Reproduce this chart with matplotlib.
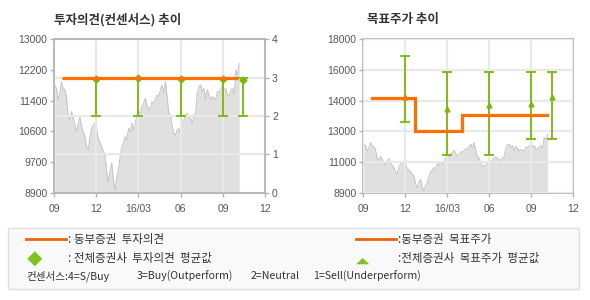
import matplotlib
matplotlib.use("Agg")
import matplotlib.pyplot as plt
import matplotlib.dates as mdates
from matplotlib.patches import Rectangle, Polygon
from matplotlib.lines import Line2D
import pandas as pd
import numpy as np

plt.rcParams['font.family'] = ['Liberation Sans', 'Noto Sans CJK KR', 'DejaVu Sans']

# ---------------- data ----------------
price_start = "2015-09-02"
price_end = "2016-10-06"
price = [11780, 11690, 11380, 11560, 11870, 11690, 11650, 11470, 10930, 10840,
         11070, 10890, 10710, 10530, 10760, 10930, 10670, 10530, 10400, 10130,
         10040, 10400, 10620, 10710, 10760, 10620, 10310, 10260, 10130, 10000,
         9910, 9420, 9190, 9510, 9690, 9240, 8970, 9330, 9510, 9860,
         10130, 10220, 10400, 10310, 10620, 10530, 10760, 10580, 10760, 10980,
         11070, 11020, 11200, 11290, 11420, 11250, 11110, 11160, 11330, 11290,
         11380, 11510, 11470, 11650, 11780, 11560, 11870, 11470, 11020, 10980,
         10670, 10490, 10440, 10580, 10620, 10440, 10760, 10840, 10980, 11020,
         10930, 10890, 10760, 10980, 11020, 11560, 11740, 11780, 11600, 11690,
         11380, 11650, 11510, 11380, 11470, 11420, 11380, 11600, 11600, 11650,
         11780, 11650, 11690, 11510, 11470, 11650, 11690, 11510, 12180, 12050,
         12360]

opinion_dates = ["2015-09-18", "2016-10-04"]
opinion = [3, 3]

cons_dates = ["2015-12-01", "2016-03-01", "2016-06-01", "2016-09-01", "2016-10-15"]
cons_mean = [2.96, 2.98, 2.96, 2.96, 2.93]
cons_low = [2, 2, 2, 2, 2]
cons_high = [3, 3, 3, 3, 3]

target_dates = ["2015-09-20", "2015-12-22", "2016-04-02", "2016-10-05"]
target = [14540, 12560, 13510, 13510]

tp_mean = [14560, 13870, 14100, 14160, 14600]
tp_low = [13080, 11140, 11140, 12070, 12070]
tp_high = [17030, 16050, 16050, 16050, 16050]

x_ticks = ["2015-09-01", "2015-12-01", "2016-03-01", "2016-06-01", "2016-09-01", "2016-12-01"]
x_labels = ["09", "12", "16/03", "06", "09", "12"]
left_ylabels = ["8900", "9700", "10600", "11400", "12200", "13000"]
right_ylabels = ["8900", "11000", "13000", "14000", "16000", "18000"]
rating_ticks = [0, 1, 2, 3, 4]

# ---------------- styling ----------------
ORANGE = "#ff7000"
GREEN = "#78b80a"
GRID = "#e9e9e9"
SPINE = "#b4b4b4"
TICKC = "#555555"
FILL = "#e0e0e0"
EDGE = "#c4c4c4"

pdates = pd.date_range(price_start, price_end, periods=len(price))
xt = pd.to_datetime(x_ticks)
xlim = (xt[0], xt[-1])

fig = plt.figure(figsize=(5.9, 3.0), dpi=100)
fig.patch.set_facecolor("white")

def style_axes(ax):
    for s in ax.spines.values():
        s.set_color(SPINE)
        s.set_linewidth(1.2)
    ax.tick_params(length=3, width=1, color=SPINE, labelcolor=TICKC, labelsize=7.5, pad=2)
    ax.set_xlim(*xlim)
    ax.set_xticks(xt)
    ax.set_xticklabels(x_labels)
    ax.tick_params(axis='x', pad=5)
    ax.xaxis.grid(True, color=GRID, lw=1.6)
    ax.set_axisbelow(False)

def draw_price(ax, lo, hi):
    ax.fill_between(pdates, price, lo, color=FILL, lw=0, zorder=1)
    ax.plot(pdates, price, color=EDGE, lw=0.7, zorder=1.5)
    ax.set_ylim(lo, hi)

# ----- left chart -----
axL = fig.add_axes([54.3 / 590, 1 - 192.7 / 300, (265 - 54.3) / 590, (192.7 - 39.3) / 300])
draw_price(axL, 8900, 13000)
style_axes(axL)
axL.set_yticks(np.linspace(8900, 13000, len(left_ylabels)))
axL.set_yticklabels(left_ylabels)

axR = axL.twinx()
axR.set_ylim(0, 4)
axR.set_yticks(rating_ticks)
axR.yaxis.grid(True, color=GRID, lw=1.6)
for s in axR.spines.values():
    s.set_color(SPINE)
    s.set_linewidth(1.2)
axR.tick_params(length=3, width=1, color=SPINE, labelcolor=TICKC, labelsize=7.5, pad=2)
cd = pd.to_datetime(cons_dates)
cm = np.array(cons_mean)
axR.errorbar(cd, cm, yerr=[cm - np.array(cons_low), np.array(cons_high) - cm],
             fmt='D', color=GREEN, ms=3.5, elinewidth=1.3, capsize=3.3, capthick=1.3, zorder=3)
axR.plot(pd.to_datetime(opinion_dates), opinion, color=ORANGE, lw=2.3, zorder=4,
         solid_capstyle='butt')
axR.set_xlim(*xlim)

fig.text(54.3 / 590, 1 - 20 / 300, "투자의견(컨센서스) 추이", fontsize=9, fontweight='bold',
         color="#333333", va='center', ha='left', family=['Noto Sans CJK KR'])

# ----- right chart -----
axP = fig.add_axes([363.3 / 590, 1 - 192.7 / 300, (573.3 - 363.3) / 590, (192.7 - 39.3) / 300])
draw_price(axP, 8900, 18000)
style_axes(axP)
axP.set_yticks(np.linspace(8900, 18000, len(right_ylabels)))
axP.set_yticklabels(right_ylabels)
axP.yaxis.grid(True, color=GRID, lw=1.6)
tm = np.array(tp_mean)
axP.errorbar(cd, tm, yerr=[tm - np.array(tp_low), np.array(tp_high) - tm],
             fmt='^', color=GREEN, ms=3.5, elinewidth=1.3, capsize=3.3, capthick=1.3, zorder=3)
axP.plot(pd.to_datetime(target_dates), target, color=ORANGE, lw=2.3, drawstyle='steps-post',
         zorder=4, solid_joinstyle='miter')

fig.text(366.7 / 590, 1 - 20 / 300, "목표주가 추이", fontsize=9, fontweight='bold',
         color="#333333", va='center', ha='left', family=['Noto Sans CJK KR'])

# ----- legend box -----
W, H = 590.0, 300.0
def fx(px): return px / W
def fy(py): return 1 - py / H

fig.add_artist(Rectangle((fx(8.3), fy(288.7)), fx(579.3) - fx(8.3), (288.7 - 228) / H,
                         transform=fig.transFigure, facecolor="#f9f9f9", edgecolor="#dedede", lw=1))
fig.add_artist(Line2D([fx(26), fx(65.7)], [fy(239.3)] * 2, transform=fig.transFigure,
                      color="#e8650a", lw=2))
fig.add_artist(Line2D([fx(356), fx(395.7)], [fy(238.5)] * 2, transform=fig.transFigure,
                      color="#e8650a", lw=2))
fig.add_artist(Polygon([(fx(27.3), fy(258.8)), (fx(34.8), fy(251.3)), (fx(42.3), fy(258.8)),
                        (fx(34.8), fy(266.3))], closed=True, transform=fig.transFigure,
                       facecolor="#80c31c", edgecolor='none'))
fig.add_artist(Polygon([(fx(356), fy(264.3)), (fx(362.7), fy(258)), (fx(369.3), fy(264.3))],
                       closed=True, transform=fig.transFigure, facecolor="#80c31c", edgecolor='none'))

lt = dict(fontsize=8.3, color="#333333", va='center', ha='left', family=['Noto Sans CJK KR'])
fig.text(fx(67.5), fy(239.5), ": 동부증권  투자의견", **lt)
fig.text(fx(67.5), fy(258.8), ": 전체증권사  투자의견  평균값", **lt)
fig.text(fx(397.5), fy(239.5), ":동부증권  목표주가", **lt)
fig.text(fx(397.5), fy(258.8), ":전체증권사  목표주가  평균값", **lt)

st = dict(fontsize=7.6, color="#333333", va='center', ha='left', family=['Noto Sans CJK KR'])
fig.text(fx(26), fy(276), "컨센서스:4=S/Buy", **st)
fig.text(fx(136.7), fy(276), "3=Buy(Outperform)", **st)
fig.text(fx(251), fy(276), "2=Neutral", **st)
fig.text(fx(313.3), fy(276), "1=Sell(Underperform)", **st)

fig.savefig("out.png", dpi=100, facecolor="white")
